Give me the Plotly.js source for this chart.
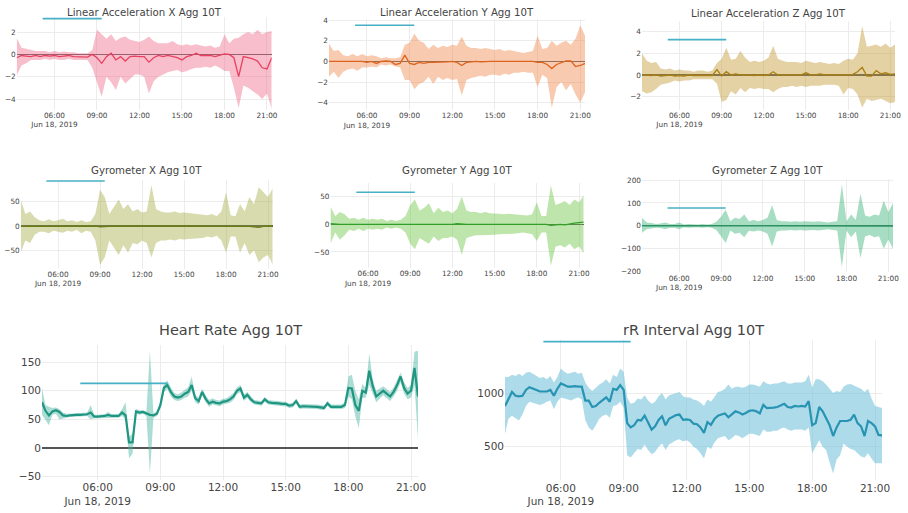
<!DOCTYPE html>
<html>
<head>
<meta charset="utf-8">
<script src="https://cdn.plot.ly/plotly-3.0.1.min.js"></script>
<style>html,body{margin:0;padding:0;background:#fff;}#chart{width:908px;height:513px;}</style>
</head>
<body>
<div id="chart"></div>
<script>
// ---------- data ----------
const day = "2019-06-18";
const times20 = ["03:20","03:40","04:00","04:20","04:40","05:00","05:20","05:40","06:00","06:20","06:40","07:00","07:20","07:40","08:00","08:20","08:40","09:00","09:20","09:40","10:00","10:20","10:40","11:00","11:20","11:40","12:00","12:20","12:40","13:00","13:20","13:40","14:00","14:20","14:40","15:00","15:20","15:40","16:00","16:20","16:40","17:00","17:20","17:40","18:00","18:20","18:40","19:00","19:20","19:40","20:00","20:20","20:40","21:00","21:20"];
const times10 = ["03:20","03:30","03:40","03:50",
"04:00","04:10","04:20","04:30","04:40","04:50","05:00","05:10","05:20","05:30","05:40","05:50",
"06:00","06:10","06:20","06:30","06:40","06:50","07:00","07:10","07:20","07:30","07:40","07:50",
"08:00","08:10","08:20","08:30","08:40","08:50","09:00","09:10","09:20","09:30","09:40","09:50",
"10:00","10:10","10:20","10:30","10:40","10:50","11:00","11:10","11:20","11:30","11:40","11:50",
"12:00","12:10","12:20","12:30","12:40","12:50","13:00","13:10","13:20","13:30","13:40","13:50",
"14:00","14:10","14:20","14:30","14:40","14:50","15:00","15:10","15:20","15:30","15:40","15:50",
"16:00","16:10","16:20","16:30","16:40","16:50","17:00","17:10","17:20","17:30","17:40","17:50",
"18:00","18:10","18:20","18:30","18:40","18:50","19:00","19:10","19:20","19:30","19:40","19:50",
"20:00","20:10","20:20","20:30","20:40","20:50","21:00","21:10","21:20"];

const linx_mean = [-0.3,-0.1,-0.15,-0.2,-0.1,-0.2,-0.1,-0.15,-0.1,-0.2, -0.15,-0.1,-0.2,-0.2,-0.25,-0.25,0,-0.3,-0.8,-0.2, 0.1,-0.5,-0.2,-0.6,-0.2,-0.15,-0.2,-0.2,-0.7,-0.3, -0.1,-0.2,-0.1,-0.2,-0.3,-0.5,-0.2,-0.1,0.1,-0.1, -0.1,-0.1,-0.2,-0.1,0.05,0,-0.3,-2.0,-0.2,-0.3, -0.4,-0.6,-1.2,-1.3,-0.3];
const linx_hi = [1.5,0.6,0.5,0.4,0.3,0.3,0.3,0.2,0.3,0.2, 0.25,0.2,0.2,0.1,0.1,0.1,0.4,2.2,1.8,1.4, 1.8,1.2,1.5,1.6,1.3,1.2,1.1,1.3,1.6,1.2, 1.0,1.0,1.0,1.2,0.9,0.8,0.9,0.8,0.9,0.8, 0.7,0.8,0.6,0.7,1.8,1.0,1.4,1.5,1.8,2.0, 1.8,2.2,1.8,2.0,2.1];
const linx_lo = [-1.9,-1.0,-0.8,-0.5,-0.5,-0.5,-0.4,-0.5,-0.4,-0.5, -0.5,-0.4,-0.5,-0.5,-0.5,-0.5,-1.2,-2.5,-3.8,-2.0, -2.5,-3.2,-2.0,-2.6,-2.2,-1.8,-1.8,-2.0,-3.5,-2.4, -2.0,-1.8,-1.6,-1.5,-1.4,-1.6,-1.5,-1.3,-1.2,-1.2, -1.1,-1.2,-1.0,-1.2,-1.5,-1.5,-3.0,-4.8,-2.8,-3.0, -3.3,-3.6,-4.0,-3.5,-4.9];

const liny_mean = [0,0,-0.05,0,-0.05,0,-0.05,0,-0.1,0, -0.2,0,0.05,0,-0.3,-0.2,0.6,-0.2,-0.3,-0.1, -0.2,-0.1,-0.1,-0.1,-0.1,-0.05,0,-0.1,-0.4,-0.1, -0.05,0,-0.05,0,0,0,0,0,0,0, 0,0,0,0,-0.1,-0.1,-0.3,-0.7,-0.3,-0.1, 0.05,0.05,-0.5,-0.4,-0.2];
const liny_hi = [1.7,1.0,1.1,0.6,0.5,0.7,0.5,0.7,0.5,0.6, 0.5,0.3,0.4,0.3,0.3,0.4,1.6,1.8,2.7,2.0, 1.8,1.2,1.6,1.3,1.5,1.4,1.6,1.5,2.4,1.5, 1.3,1.3,1.2,1.3,1.2,1.1,1.2,1.0,1.1,1.0, 0.9,0.8,0.9,1.0,2.5,1.2,1.3,2.0,1.5,1.8, 2.0,1.6,2.2,3.5,2.5];
const liny_lo = [-1.5,-1.0,-1.6,-1.0,-0.8,-0.7,-0.9,-0.6,-0.6,-0.5, -0.6,-0.3,-0.4,-0.3,-0.5,-0.6,-1.8,-1.8,-2.7,-2.2, -2.0,-1.5,-2.2,-1.5,-1.8,-1.6,-1.8,-1.7,-3.3,-1.8, -1.6,-1.5,-1.4,-1.5,-1.3,-1.3,-1.4,-1.2,-1.3,-1.1, -1.1,-1.0,-1.1,-1.1,-2.5,-1.3,-1.6,-4.5,-2.5,-2.0, -2.8,-2.2,-3.2,-4.0,-3.0];

const linz_mean = [0,-0.05,-0.05,0,-0.1,-0.05,0,-0.1,-0.05,-0.1, 0,-0.05,-0.05,-0.1,-0.05,-0.05,0.5,-0.1,0.3,0, 0.1,0,0,-0.05,-0.05,0,-0.05,0,0.3,0, 0,0,0,0,0,0.2,0,0,0.1,0, 0,0,-0.05,0,0,0.05,0.3,0.7,-0.1,-0.1, 0.4,0.1,0.2,0.05,0.1];
const linz_hi = [2.0,1.3,1.1,1.2,0.6,0.5,0.6,0.4,0.5,0.4, 0.4,0.3,0.4,0.4,0.3,0.4,1.1,1.5,2.5,1.4, 1.5,2.2,1.6,1.2,1.3,1.2,1.3,1.6,2.7,1.5, 1.3,1.2,1.2,1.2,1.1,1.3,1.2,1.1,1.2,1.1, 1.0,1.1,1.0,1.3,1.5,1.4,2.0,4.5,2.6,2.7, 2.8,2.6,2.9,2.5,2.8];
const linz_lo = [-1.5,-1.7,-1.6,-1.3,-0.9,-0.8,-0.7,-0.5,-0.6,-0.5, -0.5,-0.4,-0.4,-0.4,-0.4,-0.4,-0.8,-2.5,-2.3,-1.5, -1.8,-1.2,-1.6,-1.2,-1.3,-1.2,-1.3,-1.3,-1.6,-1.3, -1.1,-1.1,-1.0,-1.1,-1.0,-1.1,-1.0,-1.0,-1.0,-0.9, -0.9,-0.9,-1.0,-1.8,-1.2,-1.3,-1.8,-3.0,-2.2,-2.4, -2.3,-2.2,-2.4,-2.6,-2.5];

const gyrx_mean = [-1,-1,0,-1,0,0,-1,0,0,-1, 0,0,-1,0,-1,-1,0,-2,-1,0, 0,-1,0,-1,0,0,0,0,-1,0, 0,0,0,0,0,0,0,0,-1,0, 0,0,0,0,-1,0,0,-1,0,-1, -2,-3,-1,0,0];
const gyrx_hi = [55,25,30,18,12,10,14,10,12,15, 10,12,8,12,8,10,25,75,60,25, 40,55,35,45,30,35,28,30,85,35, 30,28,28,30,27,28,27,26,25,24, 22,25,20,30,70,22,20,45,30,60, 45,80,70,60,78];
const gyrx_lo = [-55,-30,-35,-18,-12,-12,-15,-10,-12,-14, -10,-12,-8,-15,-10,-12,-30,-80,-65,-30, -45,-60,-40,-55,-35,-38,-30,-35,-65,-35, -30,-30,-28,-30,-27,-28,-27,-26,-25,-25, -22,-24,-20,-30,-55,-22,-22,-55,-35,-60, -50,-75,-65,-60,-80];

const gyry_mean = [1,0,0,0,0,0,0,0,0,0, 0,0,0,0,0,0,0,-1,0,0, 0,-1,0,0,0,0,0,1,0,0, 0,0,0,0,0,0,0,0,0,0, 0,0,0,0,0,0,0,-2,-1,0, -1,1,2,3,4];
const gyry_hi = [32,15,22,18,10,12,8,12,8,10, 8,10,6,8,6,8,15,35,45,25, 30,38,20,30,22,25,20,28,50,25, 22,22,20,22,20,20,19,18,19,18, 17,16,16,18,40,15,15,70,35,38, 42,35,45,40,52];
const gyry_lo = [-35,-15,-28,-20,-10,-12,-8,-12,-8,-10, -8,-10,-6,-8,-6,-8,-15,-35,-45,-25, -30,-35,-22,-30,-25,-25,-22,-28,-55,-25, -22,-20,-20,-20,-19,-19,-18,-18,-17,-17, -16,-15,-16,-18,-30,-15,-15,-75,-40,-38, -42,-35,-45,-40,-52];

const gyrz_mean = [0,0,-1,0,0,0,-1,0,0,0, 0,0,0,0,0,0,0,-1,0,0, 0,0,-1,0,0,0,0,0,-1,0, 0,0,0,0,0,0,0,0,0,0, 0,0,0,-2,0,0,0,-1,0,0, -1,0,-2,-1,-1];
const gyrz_hi = [35,15,12,8,10,15,8,8,15,6, 8,6,6,8,6,8,18,40,70,20, 35,30,50,20,25,20,25,35,90,25, 20,20,18,20,18,20,18,18,20,18, 15,18,20,180,20,50,25,140,45,40, 50,45,110,60,100];
const gyrz_lo = [-30,-15,-12,-8,-10,-15,-8,-8,-15,-6, -8,-6,-6,-8,-6,-8,-18,-45,-75,-20, -35,-30,-50,-22,-25,-20,-25,-35,-90,-25, -20,-20,-18,-20,-18,-20,-18,-18,-20,-18, -15,-18,-20,-180,-20,-50,-25,-140,-45,-40, -50,-45,-100,-60,-100];

const hr_mean = [80,65,57,64, 66,63,57,56,57,58, 58,58,58,59,62,55, 55,55,56,58,56,56, 56,62,57,10,10,64, 62,63,60,58,57,60, 75,105,110,98,90,88, 90,95,98,110,87,82, 98,86,78,81,79,78, 81,82,85,90,100,104, 88,93,85,80,79,78, 85,80,79,79,78,77, 77,74,75,82,72,73, 73,73,72,72,71,70, 78,72,72,72,72,75, 105,104,75,65,100,97, 135,108,90,95,100,95, 90,98,110,125,105,95, 100,140,90];
const hr_hi = [105,75,72,70, 71,68,62,60,60,61, 61,61,61,62,75,58, 58,58,59,63,59,59, 59,68,80,20,25,68, 66,66,64,170,61,64, 82,112,118,106,96,94, 97,102,106,125,93,88, 104,92,84,87,84,83, 86,87,91,96,106,110, 94,98,90,84,83,82, 89,84,83,83,82,81, 81,78,79,86,76,77, 77,77,76,76,75,74, 82,76,76,76,76,80, 125,128,100,85,112,105, 165,120,100,104,108,103, 98,106,118,132,115,105, 110,168,170];
const hr_lo = [58,50,40,58, 60,50,52,53,54,55, 55,55,55,56,50,52, 52,52,53,52,53,53, 53,56,50,-18,-10,60, 58,60,56,-45,53,56, 70,98,103,90,84,82, 84,88,90,100,80,76, 92,80,72,76,74,73, 76,77,79,84,94,98, 82,88,80,76,75,74, 81,76,75,75,74,73, 73,70,71,78,68,69, 69,69,68,68,67,66, 74,68,68,68,68,70, 90,85,55,35,88,88, 110,95,80,86,92,87, 82,90,100,115,95,85, 88,110,15];

const rr_mean = [880,950,1010,975, 970,975,1030,1055,1045,1030, 1015,1015,1015,1030,975,1040, 1090,1075,1060,1060,1065,1060, 1060,930,930,870,880,910, 935,960,920,1040,1030,1075, 1030,720,680,700,750,745, 790,720,660,690,750,785, 700,760,780,795,800,750, 755,750,715,710,680,630, 730,705,760,790,800,810, 775,800,830,820,800,815, 835,840,830,810,890,860, 860,865,870,885,900,870, 865,880,875,880,875,925, 700,720,870,830,770,700, 600,680,740,740,740,750, 800,720,690,600,740,720, 690,610,605];
const rr_hi = [1150,1150,1170,1160, 1180,1160,1190,1200,1180,1160, 1140,1150,1130,1160,1100,1150, 1230,1200,1180,1190,1200,1180, 1190,1100,1050,1020,1050,1080, 1100,1130,1090,1170,1150,1230, 1200,960,900,910,950,940, 980,930,900,920,970,1000, 940,980,990,1000,1010,970, 960,960,940,930,910,880, 940,920,970,1010,1020,1040, 1080,1040,1060,1060,1050,1060, 1080,1080,1070,1060,1110,1090, 1080,1090,1090,1100,1110,1090, 1090,1100,1100,1100,1110,1170, 1050,1130,1130,1110,1080,1040, 1000,1020,1010,1060,1080,1085, 1070,1050,1040,1010,1040,950, 880,870,860];
const rr_lo = [620,760,790,770, 745,800,880,920,910,900, 890,900,920,930,850,920, 960,950,940,930,950,960, 940,750,680,650,700,760, 790,800,770,880,890,920, 860,420,400,440,480,470, 520,470,430,450,500,530, 470,520,540,560,570,550, 560,540,500,480,440,390, 500,480,540,580,590,600, 560,580,610,600,580,600, 620,620,610,600,660,640, 640,650,650,670,680,660, 650,660,660,660,650,680, 440,500,560,500,470,350, 250,380,420,530,500,480, 470,440,410,400,440,390, 345,345,345];

const titles = ["Linear Acceleration X Agg 10T","Linear Acceleration Y Agg 10T","Linear Acceleration Z Agg 10T",
                "Gyrometer X Agg 10T","Gyrometer Y Agg 10T","Gyrometer Z Agg 10T",
                "Heart Rate Agg 10T","rR Interval Agg 10T"];
const sleep_start = "05:10";
const sleep_end = "09:20";
const sleep_level = [3.2, 3.5, 3.25, 93, 58, 78, 113, 1480];
const y_dtick = [2, 2, 2, 50, 50, 100, 50, 500];

// ---------- presentation ----------
const W = 908, H = 513;
// pixel boxes [x0, x1, ytop, ybottom]
const boxes = [
  [16.7, 271.7, 17, 109.6], [329, 585, 19, 109.9], [642, 895, 21, 109.7],
  [20.7, 272.7, 179.6, 268.5], [330.5, 583.7, 182.8, 268], [642, 893, 178.9, 272.3],
  [42, 418, 345, 479.5], [505, 882, 340, 480]
];
const yranges = [[-4.95, 3.35], [-4.7, 4.1], [-3.2, 4.97], [-88, 96], [-79, 75], [-203, 205], [-55, 180], [190, 1495]];
const titleY = [12, 12, 13, 171, 171, 171, 330, 330];
const lineCol = ["rgb(232,64,96)","rgb(222,100,30)","rgb(170,128,20)","rgb(104,126,22)","rgb(50,160,40)","rgb(40,150,100)","rgb(32,150,130)","rgb(38,148,178)"];
const fillCol = ["rgba(240,110,140,0.45)","rgba(240,140,80,0.45)","rgba(195,155,55,0.45)","rgba(160,170,60,0.42)","rgba(110,200,70,0.45)","rgba(60,180,120,0.45)","rgba(70,180,160,0.45)","rgba(120,195,218,0.6)"];
const sleepCol = "rgb(70,176,198)";

const series = [
  [times20, linx_mean, linx_hi, linx_lo],
  [times20, liny_mean, liny_hi, liny_lo],
  [times20, linz_mean, linz_hi, linz_lo],
  [times20, gyrx_mean, gyrx_hi, gyrx_lo],
  [times20, gyry_mean, gyry_hi, gyry_lo],
  [times20, gyrz_mean, gyrz_hi, gyrz_lo],
  [times10, hr_mean, hr_hi, hr_lo],
  [times10, rr_mean, rr_hi, rr_lo]
];

const font = "DejaVu Sans, Verdana, sans-serif";
const traces = [];
const layout = {
  width: W, height: H, margin: {l:0, r:0, t:0, b:0},
  paper_bgcolor: "#fff", plot_bgcolor: "#fff", showlegend: false,
  font: {family: font, color: "#444"},
  annotations: []
};

series.forEach((s, i) => {
  const n = i + 1;
  const xa = "x" + (i === 0 ? "" : n), ya = "y" + (i === 0 ? "" : n);
  const xs = s[0].map(t => day + " " + t);
  const big = i >= 6;
  traces.push({x: xs, y: s[3], xaxis: xa, yaxis: ya, type: "scatter", mode: "lines",
               line: {width: 0, color: lineCol[i]}, hoverinfo: "skip"});
  traces.push({x: xs, y: s[2], xaxis: xa, yaxis: ya, type: "scatter", mode: "lines",
               line: {width: 0, color: lineCol[i]}, fill: "tonexty", fillcolor: fillCol[i], hoverinfo: "skip"});
  traces.push({x: xs, y: s[1], xaxis: xa, yaxis: ya, type: "scatter", mode: "lines",
               line: {width: big ? 2.2 : 1.3, color: lineCol[i]}});
  traces.push({x: [day + " " + sleep_start, day + " " + sleep_end], y: [sleep_level[i], sleep_level[i]],
               xaxis: xa, yaxis: ya, type: "scatter", mode: "lines",
               line: {width: big ? 1.8 : 1.6, color: sleepCol}});
  const b = boxes[i];
  const tickSize = big ? 10.5 : 7.3;
  layout["xaxis" + (i === 0 ? "" : n)] = {
    domain: [b[0] / W, b[1] / W], anchor: ya, type: "date",
    range: [day + " 03:20", day + " 21:20"],
    tick0: day + " 00:00", dtick: 3 * 3600 * 1000,
    showgrid: true, gridcolor: "#ececec", gridwidth: 1, zeroline: false, showline: false,
    tickfont: {size: tickSize, family: font, color: "#444"}, ticks: ""
  };
  layout["yaxis" + (i === 0 ? "" : n)] = {
    domain: [1 - b[3] / H, 1 - b[2] / H], anchor: xa,
    range: yranges[i], dtick: y_dtick[i], tick0: 0,
    showgrid: true, gridcolor: "#ececec", gridwidth: 1,
    zeroline: true, zerolinecolor: "#555", zerolinewidth: big ? 1.6 : 1.1, showline: false,
    tickfont: {size: tickSize, family: font, color: "#444"}, ticks: ""
  };
  layout.annotations.push({
    text: titles[i], xref: "paper", yref: "paper",
    x: (b[0] + b[1]) / 2 / W, y: 1 - titleY[i] / H, xanchor: "center", yanchor: "middle",
    showarrow: false, font: {size: big ? 14.5 : 10.2, family: font, color: "#444"}
  });
});

Plotly.newPlot("chart", traces, layout, {displayModeBar: false, staticPlot: true});
</script>
</body>
</html>
